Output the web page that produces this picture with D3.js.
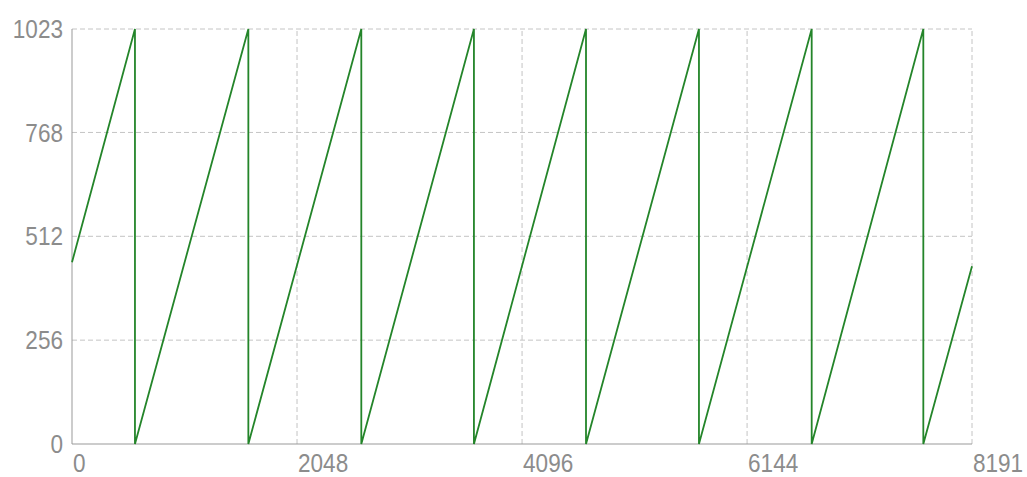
<!DOCTYPE html>
<html>
<head>
<meta charset="utf-8">
<script src="https://cdn.jsdelivr.net/npm/d3@7"></script>
<style>
  body { margin: 0; background: #fff; }
  text { font-family: "Liberation Sans", Arial, sans-serif; }
</style>
</head>
<body>
<div id="chart"></div>
<script>
// valores
const xTicks = [0, 2048, 4096, 6144, 8191];
const yTicks = [0, 256, 512, 768, 1023];
const sampleIdx = [0, 573, 573, 1605, 1605, 2633, 2633, 3658, 3658, 4678, 4678, 5706, 5706, 6732, 6732, 7748, 7748, 8191];
const codeVals  = [448, 1023, 0, 1023, 0, 1023, 0, 1023, 0, 1023, 0, 1023, 0, 1023, 0, 1023, 0, 438];

const width = 1027, height = 477;
const margin = { top: 29, right: 55, bottom: 33, left: 72 };

const svg = d3.select("#chart").append("svg")
    .attr("width", width)
    .attr("height", height);

const x = d3.scaleLinear().domain([0, 8191]).range([margin.left, width - margin.right]);
const y = d3.scaleLinear().domain([0, 1023]).range([height - margin.bottom, margin.top]);

// rejilla
svg.selectAll(".hgrid")
    .data(yTicks.filter(d => d > 0))
    .enter()
    .append("line")
    .attr("x1", x(0)).attr("x2", x(8191))
    .attr("y1", d => y(d)).attr("y2", d => y(d))
    .style("stroke", "#c4c4c4")
    .style("stroke-dasharray", "5,3");

svg.selectAll(".vgrid")
    .data(xTicks.filter(d => d > 0))
    .enter()
    .append("line")
    .attr("x1", d => x(d)).attr("x2", d => x(d))
    .attr("y1", y(0)).attr("y2", y(1023))
    .style("stroke", "#c4c4c4")
    .style("stroke-dasharray", "5,3");

// ejes
svg.append("line")
    .attr("x1", x(0)).attr("x2", x(0))
    .attr("y1", y(0)).attr("y2", y(1023))
    .style("stroke", "#999");
svg.append("line")
    .attr("x1", x(0)).attr("x2", x(8191))
    .attr("y1", y(0)).attr("y2", y(0))
    .style("stroke", "#999");

// etiquetas (letra estrecha, como en el original)
svg.selectAll(".ylabel")
    .data(yTicks)
    .enter()
    .append("text")
    .attr("transform", d => `translate(${x(0) - 9},${y(d)}) scale(0.94,1.06)`)
    .attr("dy", "0.36em")
    .attr("text-anchor", "end")
    .style("font-size", "24px")
    .style("fill", "#8c8c8c")
    .text(d => d);

svg.selectAll(".xlabel")
    .data(xTicks)
    .enter()
    .append("text")
    .attr("transform", d => `translate(${x(d) + 1},472) scale(0.94,1.06)`)
    .attr("text-anchor", "start")
    .style("font-size", "24px")
    .style("fill", "#8c8c8c")
    .text(d => d);

// serie
const line = d3.line()
    .x((d, i) => x(sampleIdx[i]))
    .y(d => y(d));

svg.append("path")
    .datum(codeVals)
    .attr("d", line)
    .style("fill", "none")
    .style("stroke", "#24852a")
    .style("stroke-width", 1.8);
</script>
</body>
</html>
